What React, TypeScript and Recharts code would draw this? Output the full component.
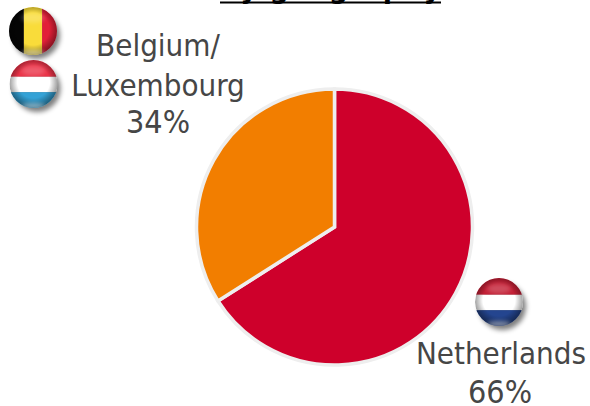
import React from "react";
import { PieChart, Pie, Cell, Customized } from "recharts";

const regions = ["Netherlands", "Belgium/Luxembourg"];
const shares = [66, 34];
const sliceColors = ["#CE002B", "#F27E00"];
const rows = regions.map((name, i) => ({ name, value: shares[i] }));

const labelFont = "'DejaVu Sans Condensed', 'DejaVu Sans', sans-serif";

type Band = { color: string; from: number; to: number };
type FlagProps = { id: string; cx: number; cy: number; r: number; bands: Band[]; vertical?: boolean };

// Glossy round flag: bands clipped to a disc, then soft shading, a top sheen and a bottom glow.
function RoundFlag({ id, cx, cy, r, bands, vertical }: FlagProps) {
  return (
    <g>
      <circle cx={cx + 3.5} cy={cy + 4.5} r={r - 0.5} fill="#000" opacity={0.5} filter="url(#flagShadow)" />
      <clipPath id={id}>
        <circle cx={cx} cy={cy} r={r} />
      </clipPath>
      <g clipPath={`url(#${id})`}>
        {bands.map((b, i) =>
          vertical ? (
            <rect key={i} x={cx - r + b.from * 2 * r} y={cy - r} width={(b.to - b.from) * 2 * r} height={2 * r} fill={b.color} />
          ) : (
            <rect key={i} x={cx - r} y={cy - r + b.from * 2 * r} width={2 * r} height={(b.to - b.from) * 2 * r} fill={b.color} />
          )
        )}
        <circle cx={cx} cy={cy} r={r} fill="url(#flagEdge)" />
        <ellipse cx={cx} cy={cy - r * 0.55} rx={r * 0.5} ry={r * 0.2} fill="#fff" opacity={0.2} filter="url(#flagSheen)" />
        <ellipse cx={cx} cy={cy + r * 0.92} rx={r * 0.5} ry={r * 0.12} fill="#fff" opacity={0.45} filter="url(#flagSheen)" />
      </g>
    </g>
  );
}

function Decorations() {
  return (
    <g>
      <defs>
        <radialGradient id="flagEdge" cx="50%" cy="46%" r="54%">
          <stop offset="62%" stopColor="#000" stopOpacity={0} />
          <stop offset="100%" stopColor="#000" stopOpacity={0.45} />
        </radialGradient>
        <filter id="flagShadow" x="-40%" y="-40%" width="180%" height="180%">
          <feGaussianBlur stdDeviation={2.5} />
        </filter>
        <filter id="flagSheen" x="-40%" y="-80%" width="180%" height="260%">
          <feGaussianBlur stdDeviation={2} />
        </filter>
      </defs>
      <RoundFlag id="flagBe" cx={33} cy={31} r={24} vertical
        bands={[
          { color: "#050505", from: 0, to: 0.31 },
          { color: "#F9DC3A", from: 0.31, to: 0.69 },
          { color: "#E21F38", from: 0.69, to: 1 },
        ]} />
      <RoundFlag id="flagLu" cx={33.5} cy={84} r={24}
        bands={[
          { color: "#EA3348", from: 0, to: 0.35 },
          { color: "#FFFFFF", from: 0.35, to: 0.67 },
          { color: "#34A2D6", from: 0.67, to: 1 },
        ]} />
      <RoundFlag id="flagNl" cx={499} cy={302} r={24}
        bands={[
          { color: "#C31F35", from: 0, to: 0.35 },
          { color: "#FFFFFF", from: 0.35, to: 0.67 },
          { color: "#24458F", from: 0.67, to: 1 },
        ]} />
      <g fontFamily={labelFont} fontSize={31} fill="#464646" textAnchor="middle">
        <text x={158} y={56}>Belgium/</text>
        <text x={158} y={96}>Luxembourg</text>
        <text x={158} y={133} fontSize={32}>34%</text>
        <text x={501} y={364}>Netherlands</text>
        <text x={500} y={403} fontSize={32}>66%</text>
      </g>
      <text x={330.5} y={-2} fontFamily={labelFont} fontSize={30} fontWeight={700} fill="#000" textAnchor="middle" textLength={221}>
        by geography
      </text>
      <line x1={220} x2={441} y1={2.5} y2={2.5} stroke="#000" strokeWidth={2} />
    </g>
  );
}

export default function App() {
  return (
    <div style={{ position: "absolute", left: 0, top: 0, width: 590, height: 406, background: "#fff" }}>
      <PieChart width={590} height={406} margin={{ top: 0, right: 0, bottom: 0, left: 0 }}>
        <Pie
          data={rows}
          dataKey="value"
          nameKey="name"
          cx={334.5}
          cy={227}
          outerRadius={138}
          innerRadius={0}
          startAngle={90}
          endAngle={-270}
          stroke="#EEEEEE"
          strokeWidth={3.5}
          isAnimationActive={false}
          label={false}
          labelLine={false}
        >
          {rows.map((r, i) => (
            <Cell key={r.name} fill={sliceColors[i]} />
          ))}
        </Pie>
        <Customized component={Decorations} />
      </PieChart>
    </div>
  );
}
